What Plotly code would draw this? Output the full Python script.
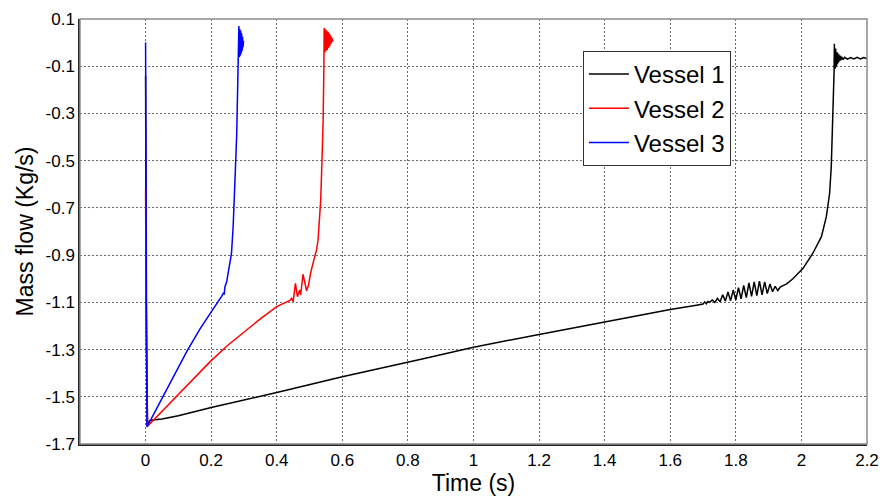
import plotly.graph_objects as go

# ---------------- data ----------------
v1_t = [0.0, 0.002, 0.006, 0.013, 0.022, 0.05, 0.1, 0.2, 0.4, 0.6, 0.84, 1.0, 1.2, 1.4, 1.6, 1.68, 1.70,
        1.705, 1.710, 1.715, 1.720, 1.728, 1.736, 1.744, 1.752, 1.760, 1.768, 1.776, 1.784, 1.792, 1.800,
        1.808, 1.816, 1.824, 1.832, 1.840, 1.848, 1.856, 1.864, 1.872, 1.880, 1.888, 1.896, 1.904, 1.912,
        1.920, 1.928, 1.936, 1.944, 1.955, 1.974, 2.005, 2.035, 2.061, 2.076, 2.086, 2.091, 2.094, 2.0975,
        2.0995, 2.1005, 2.1015, 2.1025, 2.1035, 2.1045, 2.1055, 2.1065, 2.1075, 2.1085, 2.1095, 2.111,
        2.1125, 2.114, 2.116, 2.118, 2.120, 2.123, 2.127, 2.132, 2.14, 2.15, 2.16, 2.17, 2.18, 2.19, 2.2]
v1_m = [-0.14, -1.1, -1.62, -1.60, -1.598, -1.594, -1.580, -1.545, -1.482, -1.415, -1.341, -1.290, -1.236,
        -1.182, -1.130, -1.112, -1.107,
        -1.098, -1.106, -1.096, -1.100, -1.090, -1.100, -1.083, -1.098, -1.068, -1.095, -1.056, -1.093,
        -1.048, -1.090, -1.038, -1.085, -1.028, -1.080, -1.018, -1.075, -1.013, -1.072, -1.010, -1.068,
        -1.013, -1.063, -1.022, -1.055, -1.032, -1.050, -1.034, -1.030, -1.022, -1.000, -0.956, -0.892,
        -0.822, -0.737, -0.638, -0.526, -0.412, -0.271,
        -0.130, -0.005, -0.110, -0.015, -0.105, -0.025, -0.100, -0.033, -0.095, -0.040, -0.090, -0.045,
        -0.085, -0.050, -0.080, -0.055, -0.075, -0.060, -0.072, -0.062, -0.070, -0.063, -0.069, -0.062,
        -0.069, -0.063, -0.067]

v2_t = [0.0, 0.002, 0.006, 0.05, 0.1, 0.15, 0.2, 0.25, 0.3, 0.35, 0.4, 0.43, 0.44, 0.445, 0.450, 0.457,
        0.463, 0.470, 0.473, 0.480, 0.486, 0.491, 0.497, 0.503, 0.513, 0.521, 0.526, 0.529, 0.534, 0.538,
        0.5415, 0.5436,
        0.5446, 0.5452, 0.5458, 0.5465, 0.5472, 0.548, 0.549, 0.550, 0.551, 0.552, 0.553, 0.554, 0.555,
        0.556, 0.557, 0.558, 0.559, 0.560, 0.561, 0.562, 0.563, 0.564, 0.565, 0.566, 0.567, 0.568, 0.569,
        0.570, 0.571, 0.572]
v2_m = [-0.62, -1.3, -1.625, -1.562, -1.490, -1.418, -1.347, -1.283, -1.226, -1.170, -1.118, -1.098,
        -1.092, -1.083, -1.097, -1.020, -1.076, -1.048, -1.069, -0.981, -1.027, -1.051, -1.027, -0.977,
        -0.921, -0.880, -0.836, -0.780, -0.667, -0.497, -0.328, -0.116,
        0.061, -0.045, 0.058, -0.042, 0.055, -0.040, 0.052, -0.037, 0.050, -0.034, 0.047, -0.031, 0.045,
        -0.028, 0.042, -0.024, 0.038, -0.020, 0.035, -0.015, 0.030, -0.010, 0.026, -0.005, 0.020, 0.000,
        0.015, 0.004, 0.010, 0.007]

v3_t = [0.0, 0.001, 0.004, 0.03, 0.074, 0.125, 0.166, 0.196, 0.221, 0.232, 0.237, 0.240, 0.242, 0.247,
        0.252, 0.257, 0.262, 0.267, 0.272, 0.275, 0.278, 0.2805, 0.2823,
        0.2845, 0.2852, 0.2859, 0.2866, 0.2873, 0.288, 0.2887, 0.2894, 0.2901, 0.2908, 0.2915, 0.2922,
        0.2929, 0.2936, 0.2943, 0.295, 0.2957, 0.2964, 0.2971, 0.2978, 0.2985, 0.299]
v3_m = [0.0, -0.5, -1.628, -1.56, -1.443, -1.31, -1.212, -1.147, -1.097, -1.075, -1.062, -1.064, -1.034,
        -1.015, -0.977, -0.945, -0.892, -0.780, -0.638, -0.497, -0.384, -0.257, -0.088,
        0.070, -0.060, 0.062, -0.058, 0.058, -0.055, 0.054, -0.050, 0.050, -0.045, 0.045, -0.040, 0.040,
        -0.035, 0.034, -0.028, 0.026, -0.020, 0.018, -0.010, 0.008, 0.000]

series_names = ["Vessel 1", "Vessel 2", "Vessel 3"]
series_colors = ["#000000", "#ff0000", "#0000ff"]

x_tickvals = [0, 0.2, 0.4, 0.6, 0.8, 1, 1.2, 1.4, 1.6, 1.8, 2, 2.2]
x_ticktext = ["0", "0.2", "0.4", "0.6", "0.8", "1", "1.2", "1.4", "1.6", "1.8", "2", "2.2"]
y_tickvals = [-1.7, -1.5, -1.3, -1.1, -0.9, -0.7, -0.5, -0.3, -0.1, 0.1]
y_ticktext = ["-1.7", "-1.5", "-1.3", "-1.1", "-0.9", "-0.7", "-0.5", "-0.3", "-0.1", "0.1"]

# ---------------- figure ----------------
FONT = "Liberation Sans"
fig = go.Figure()
for t, m, name, col in zip([v1_t, v2_t, v3_t], [v1_m, v2_m, v3_m], series_names, series_colors):
    fig.add_trace(go.Scatter(x=t, y=m, mode="lines", name=name,
                             line=dict(color=col, width=1.5)))

# grey box on top/right (MATLAB style)
fig.add_shape(type="rect", xref="paper", yref="paper", x0=0, x1=1, y0=0, y1=1,
              line=dict(color="#8c8c8c", width=1.5), fillcolor="rgba(0,0,0,0)", layer="above")

grid = dict(showgrid=True, gridcolor="rgba(60,60,60,0.75)", gridwidth=1, griddash="2px,2px")
fig.update_xaxes(range=[-0.2, 2.2], tickvals=x_tickvals, ticktext=x_ticktext, zeroline=False,
                 showline=True, linecolor="#262626", linewidth=1.5, ticks="", automargin=False,
                 tickfont=dict(family=FONT, size=17, color="#000"),
                 title=dict(text="Time (s)", font=dict(family=FONT, size=23, color="#000"), standoff=6),
                 **grid)
fig.update_yaxes(range=[-1.7, 0.1], tickvals=y_tickvals, ticktext=y_ticktext, zeroline=False,
                 showline=True, linecolor="#262626", linewidth=1.5, ticks="", automargin=False,
                 tickfont=dict(family=FONT, size=17, color="#000"),
                 title=dict(text="Mass flow (Kg/s)", font=dict(family=FONT, size=23, color="#000"), standoff=6),
                 **grid)

fig.update_layout(
    width=885, height=502,
    margin=dict(l=80, r=18, t=19, b=58),
    paper_bgcolor="white", plot_bgcolor="white",
    legend=dict(x=0.639, y=0.925, xanchor="left", yanchor="top",
                bgcolor="white", bordercolor="#333333", borderwidth=1, itemwidth=40,
                font=dict(family=FONT, size=24, color="#000"), tracegroupgap=0),
    showlegend=True,
)

fig.write_html("out.html")
